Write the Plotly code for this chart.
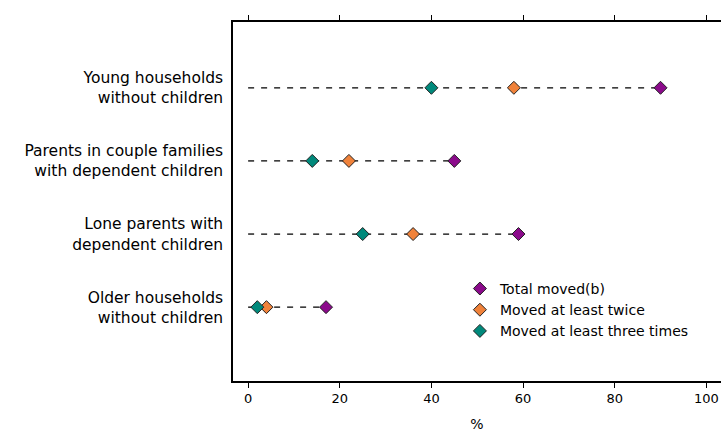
import plotly.graph_objects as go

categories = ["Young households<br>without children",
              "Parents in couple families<br>with dependent children",
              "Lone parents with<br>dependent children",
              "Older households<br>without children"]
total_moved = [90, 45, 59, 17]
moved_twice = [58, 22, 36, 4]
moved_three = [40, 14, 25, 2]
series_names = ["Total moved(b)", "Moved at least twice", "Moved at least three times"]
colors = ["#8B0A8B", "#F0823A", "#00897B"]
x_ticks = [0, 20, 40, 60, 80, 100]

ypos = [3, 2, 1, 0]

fig = go.Figure()

lx, ly = [], []
for y, t in zip(ypos, total_moved):
    lx += [0, t, None]
    ly += [y, y, None]
fig.add_trace(go.Scatter(x=lx, y=ly, mode="lines",
                         line=dict(color="black", width=1.3, dash="6px,7px"),
                         showlegend=False, hoverinfo="skip"))

for name, vals, c in zip(series_names, [total_moved, moved_twice, moved_three], colors):
    fig.add_trace(go.Scatter(x=vals, y=ypos, mode="markers", name=name,
                             marker=dict(symbol="diamond", size=10, color=c,
                                         line=dict(color="#222222", width=1))))

fig.update_layout(
    width=721, height=432,
    margin=dict(l=233, r=0, t=22, b=51),
    paper_bgcolor="white", plot_bgcolor="white",
    font=dict(family="DejaVu Sans", size=13, color="black"),
    showlegend=True,
    legend=dict(x=0.465, y=0.198, xanchor="left", yanchor="middle",
                bgcolor="rgba(0,0,0,0)", font=dict(family="DejaVu Sans", size=14),
                itemwidth=30, tracegroupgap=0),
    xaxis=dict(range=[-3.3, 103.2], tickvals=x_ticks, ticks="outside", ticklen=5,
               tickcolor="black", tickfont=dict(size=13), showline=True,
               linecolor="black", linewidth=1.5,
               mirror="ticks", showgrid=False, zeroline=False,
               title=dict(text="%", standoff=14, font=dict(size=14))),
    yaxis=dict(range=[-1.01, 3.9], tickvals=ypos, ticktext=categories, ticks="",
               tickfont=dict(size=15.5),
               showline=True, linecolor="black", linewidth=1.5, showgrid=False,
               zeroline=False, ticklabelstandoff=5),
)

fig.write_html("out.html", config={"displayModeBar": False},
               post_script="document.body.style.margin='0px';")
